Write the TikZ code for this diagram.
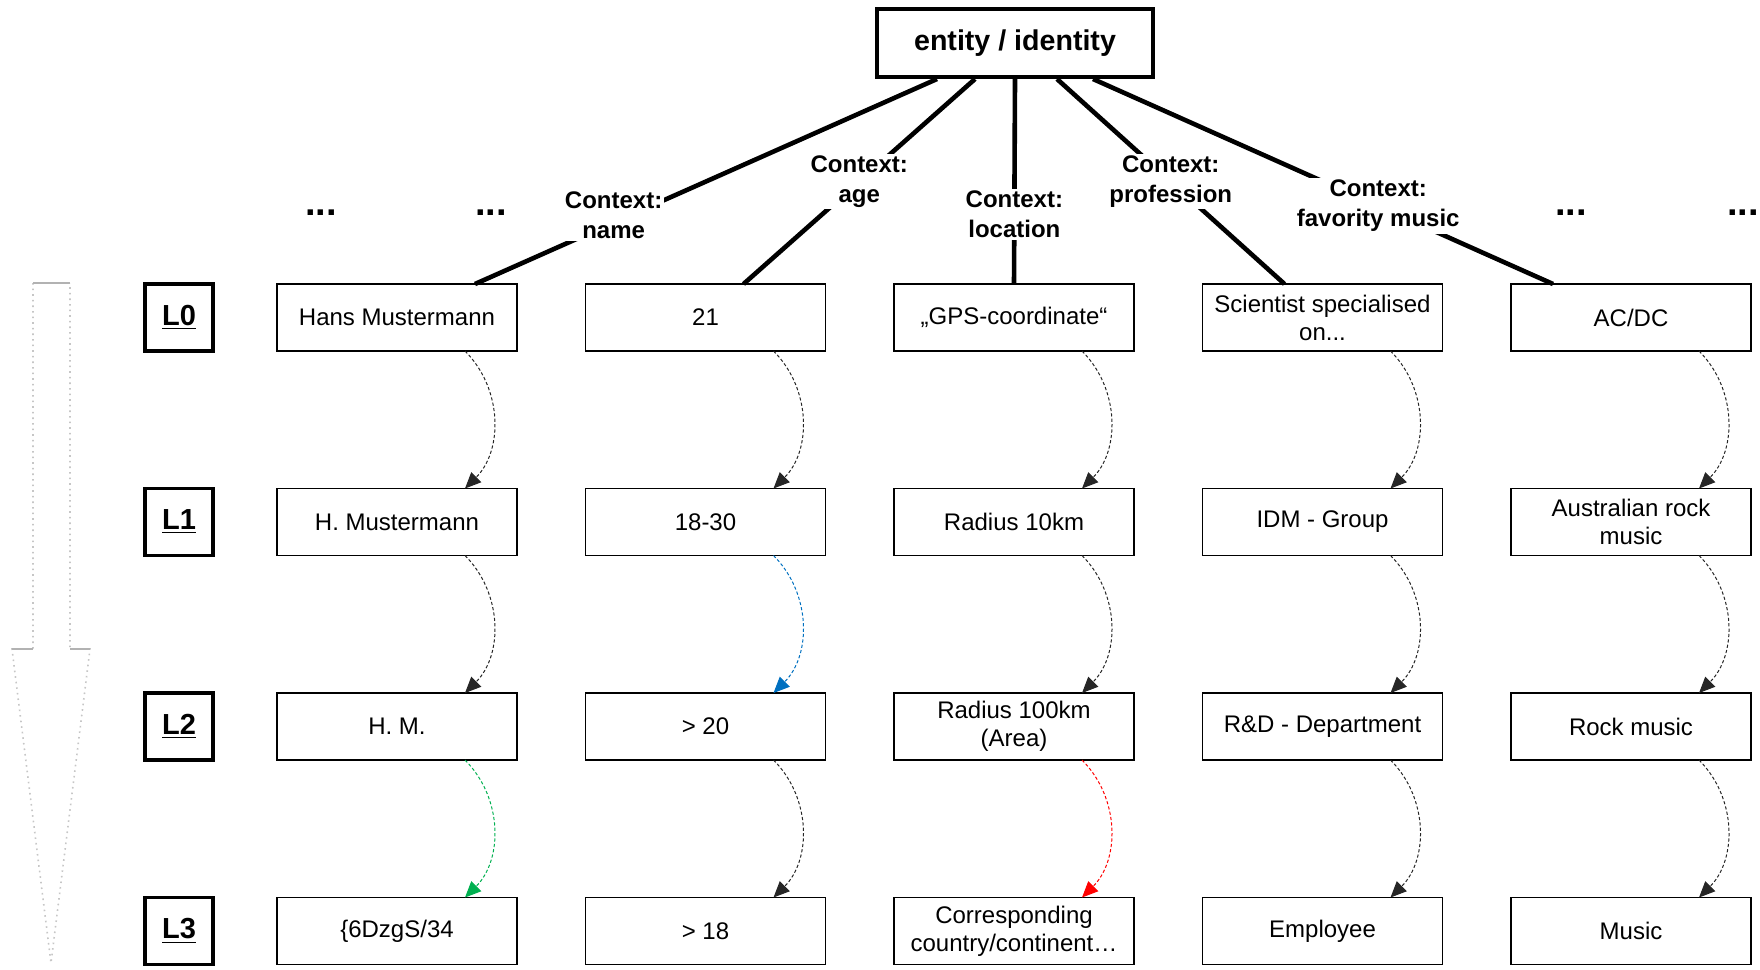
\documentclass[tikz,border=0pt]{standalone}
\usepackage{fontspec}
\setmainfont{Liberation Sans}
\usetikzlibrary{arrows.meta, positioning, calc}
\definecolor{arrblue}{RGB}{0,112,192}
\definecolor{arrgreen}{RGB}{0,176,80}
\definecolor{arrred}{RGB}{255,0,0}

\begin{document}
\begin{tikzpicture}[
  x=0.5pt, y=-0.5pt,
  valbox/.style={draw, line width=0.8pt, minimum width=120pt, minimum height=33.5pt, inner sep=2pt, outer sep=0pt,
                 align=center, font=\fontsize{12}{14}\selectfont},
  lvlbox/.style={draw, line width=1.6pt, minimum width=34pt, minimum height=33.5pt, outer sep=0pt,
                 font=\bfseries\fontsize{14.5}{17}\selectfont},
  topbox/.style={draw, line width=2pt, minimum width=138pt, minimum height=34pt, font=\bfseries\fontsize{14.3}{17}\selectfont},
  ctx/.style={line width=2.3pt},
  ctxlabel/.style={fill=white, inner sep=1pt, align=center, font=\bfseries\fontsize{12}{15}\selectfont},
  etcdots/.style={anchor=base, font=\bfseries\fontsize{19}{22}\selectfont},
  dasharr/.style={-{Triangle[length=8pt, width=7pt]}, line width=0.5pt, dash pattern=on 1.6pt off 1.1pt, black!85},
  node distance=68.75pt and 34.25pt
]
\useasboundingbox (0,0) rectangle (1760,969);

% big arrow on the left
\draw[gray!45, dotted, line width=0.8pt] (33,283) -- (33,649) -- (12,649) -- (51,963) -- (90,649) -- (70,649) -- (70,283);
\draw[gray!60, line width=0.6pt] (33,283) -- (70,283);
\draw[gray!60, line width=0.6pt] (12,649) -- (33,649) (70,649) -- (90,649);

\node[topbox] (ent) at (1015,43) {entity / identity};

% level L0
\node[valbox] (name0) at (397,317.5) {Hans Mustermann};
\node[valbox, right=of name0] (age0) {21};
\node[valbox, right=of age0] (loc0) {„GPS-coordinate“};
\node[valbox, right=of loc0] (prof0) {Scientist specialised\\on...};
\node[valbox, right=of prof0] (music0) {AC/DC};
% level L1
\node[valbox, below=of name0] (name1) {H. Mustermann};
\node[valbox, right=of name1] (age1) {18-30};
\node[valbox, right=of age1] (loc1) {Radius 10km};
\node[valbox, right=of loc1] (prof1) {IDM - Group};
\node[valbox, right=of prof1] (music1) {Australian rock\\music};
% level L2
\node[valbox, below=of name1] (name2) {H. M.};
\node[valbox, right=of name2] (age2) {> 20};
\node[valbox, right=of age2] (loc2) {Radius 100km\\(Area)};
\node[valbox, right=of loc2] (prof2) {R\&D - Department};
\node[valbox, right=of prof2] (music2) {Rock music};
% level L3
\node[valbox, below=of name2] (name3) {\{6DzgS/34};
\node[valbox, right=of name3] (age3) {> 18};
\node[valbox, right=of age3] (loc3) {Corresponding\\country/continent…};
\node[valbox, right=of loc3] (prof3) {Employee};
\node[valbox, right=of prof3] (music3) {Music};

\node[lvlbox, left=32pt of name0] (lvl0) {\underline{L0}};
\node[lvlbox, below=of lvl0] (lvl1) {\underline{L1}};
\node[lvlbox, below=of lvl1] (lvl2) {\underline{L2}};
\node[lvlbox, below=of lvl2] (lvl3) {\underline{L3}};

\node[etcdots] (etc1) at (321,215) {...};
\node[etcdots] (etc2) at (491,215) {...};
\node[etcdots] (etc3) at (1571,215) {...};
\node[etcdots] (etc4) at (1743,215) {...};

% contexts
\draw[ctx] ($(ent.south)+(-78,0)$) -- node[ctxlabel, pos=0.7, yshift=3.5pt]{Context:\\name} ($(name0.north)+(78,0)$);
\draw[ctx] ($(ent.south)+(-40,0)$) -- node[ctxlabel, pos=0.5]{Context:\\age} ($(age0.north)+(38,0)$);
\draw[ctx] (ent.south) -- node[ctxlabel, pos=0.66]{Context:\\location} (loc0.north);
\draw[ctx] ($(ent.south)+(42,0)$) -- node[ctxlabel, pos=0.5]{Context:\\profession} ($(prof0.north)+(-38,0)$);
\draw[ctx] ($(ent.south)+(78,0)$) -- node[ctxlabel, pos=0.62]{Context:\\favority music} ($(music0.north)+(-78,0)$);

% generalisation steps
\draw[dasharr] ([xshift=34pt]name0.south) to[bend left=45] ([xshift=34pt]name1.north);
\draw[dasharr] ([xshift=34pt]name1.south) to[bend left=45] ([xshift=34pt]name2.north);
\draw[dasharr, arrgreen] ([xshift=34pt]name2.south) to[bend left=45] ([xshift=34pt]name3.north);
\draw[dasharr] ([xshift=34pt]age0.south) to[bend left=45] ([xshift=34pt]age1.north);
\draw[dasharr, arrblue] ([xshift=34pt]age1.south) to[bend left=45] ([xshift=34pt]age2.north);
\draw[dasharr] ([xshift=34pt]age2.south) to[bend left=45] ([xshift=34pt]age3.north);
\draw[dasharr] ([xshift=34pt]loc0.south) to[bend left=45] ([xshift=34pt]loc1.north);
\draw[dasharr] ([xshift=34pt]loc1.south) to[bend left=45] ([xshift=34pt]loc2.north);
\draw[dasharr, arrred] ([xshift=34pt]loc2.south) to[bend left=45] ([xshift=34pt]loc3.north);
\draw[dasharr] ([xshift=34pt]prof0.south) to[bend left=45] ([xshift=34pt]prof1.north);
\draw[dasharr] ([xshift=34pt]prof1.south) to[bend left=45] ([xshift=34pt]prof2.north);
\draw[dasharr] ([xshift=34pt]prof2.south) to[bend left=45] ([xshift=34pt]prof3.north);
\draw[dasharr] ([xshift=34pt]music0.south) to[bend left=45] ([xshift=34pt]music1.north);
\draw[dasharr] ([xshift=34pt]music1.south) to[bend left=45] ([xshift=34pt]music2.north);
\draw[dasharr] ([xshift=34pt]music2.south) to[bend left=45] ([xshift=34pt]music3.north);
\end{tikzpicture}
\end{document}
